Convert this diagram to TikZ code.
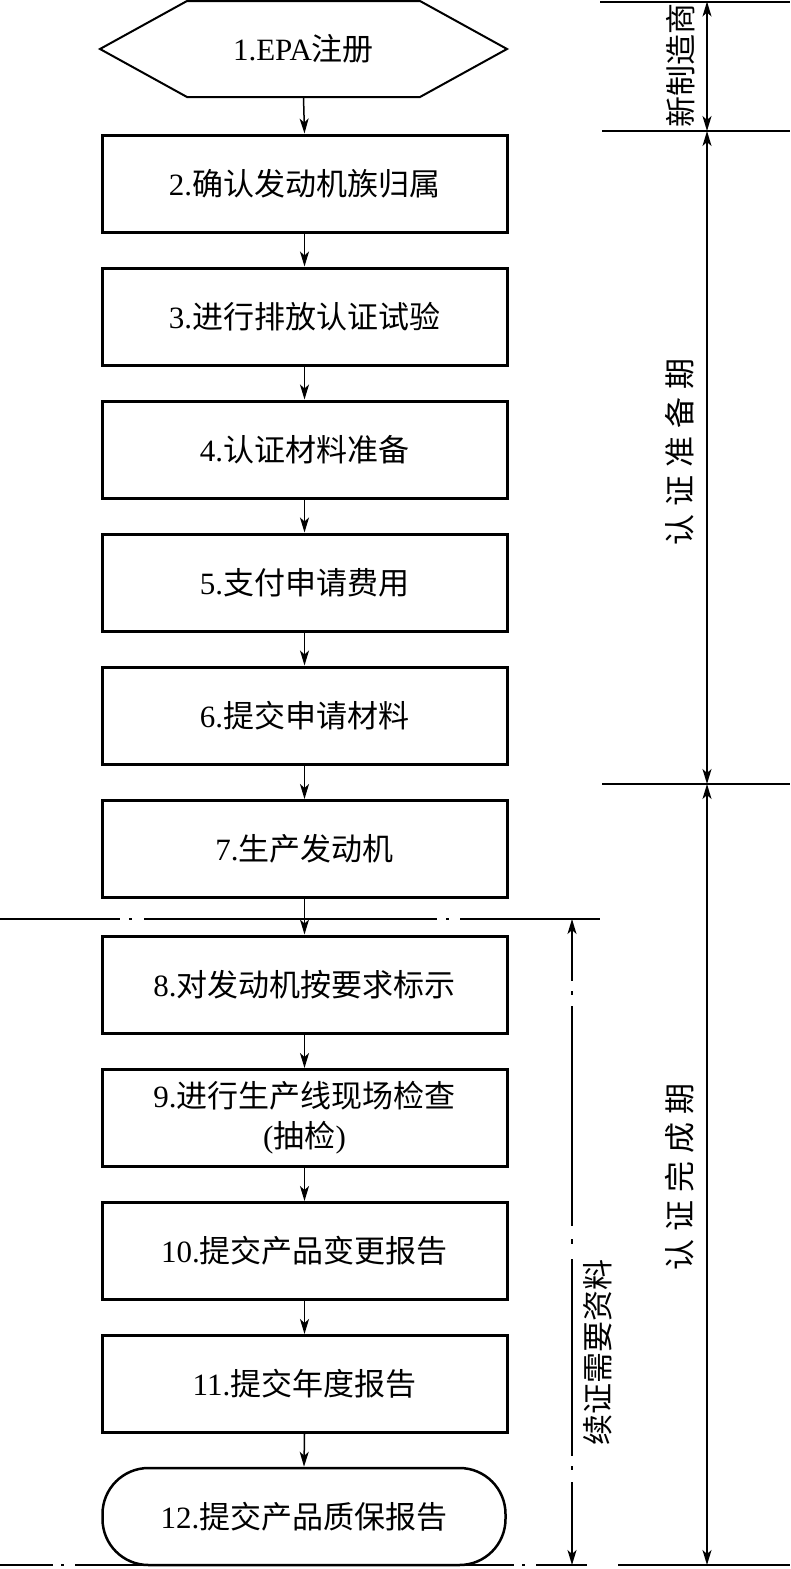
\documentclass[tikz,border=0pt]{standalone}
\usepackage{fontspec}
\setmainfont{Liberation Serif}
\newfontfamily\cjk{Noto Sans CJK SC}
\usetikzlibrary{arrows.meta,shapes.geometric}
\newcommand{\gapchar}{\hspace{8pt}}
\begin{document}
\begin{tikzpicture}[x=1pt,y=-1pt,
  lbl/.style={font=\fontsize{31}{40}\selectfont},
  stepbox/.style={draw, line width=3pt, minimum width=405pt, minimum height=97pt, inner sep=0pt, lbl},
  endbox/.style={draw, line width=2.5pt, rounded corners=46pt, minimum width=403pt, minimum height=97pt, inner sep=0pt, lbl},
  arr/.style={-{Stealth[length=15pt,width=9pt,inset=4pt]}, line width=1.5pt},
  dim/.style={{Stealth[length=15pt,width=9pt,inset=4pt]}-{Stealth[length=15pt,width=9pt,inset=4pt]}, line width=1.5pt},
  sep/.style={line width=2pt},
  vlbl/.style={lbl, rotate=90, inner sep=0pt}
]
\useasboundingbox (0,0) rectangle (790,1569);
% hexagon start
\draw[line width=2pt] (100,49) -- (187,1) -- (420,1) -- (507,49) -- (420,97) -- (187,97) -- cycle;
\node[lbl, minimum width=200pt, minimum height=96pt, inner sep=0pt] (n1) at (303.5,49) {1.EPA{\cjk 注册}};
\node[stepbox] (n2) at (304.5,183.5) {2.{\cjk 确认发动机族归属}};
\node[stepbox] (n3) at (304.5,316.5) {3.{\cjk 进行排放认证试验}};
\node[stepbox] (n4) at (304.5,449.5) {4.{\cjk 认证材料准备}};
\node[stepbox] (n5) at (304.5,582.5) {5.{\cjk 支付申请费用}};
\node[stepbox] (n6) at (304.5,715.5) {6.{\cjk 提交申请材料}};
\node[stepbox] (n7) at (304.5,849) {7.{\cjk 生产发动机}};
\node[stepbox] (n8) at (304.5,984.5) {8.{\cjk 对发动机按要求标示}};
\node[stepbox, align=center] (n9) at (304.5,1118) {9.{\cjk 进行生产线现场检查}\\({\cjk 抽检})};
\node[stepbox] (n10) at (304.5,1251) {10.{\cjk 提交产品变更报告}};
\node[stepbox] (n11) at (304.5,1384) {11.{\cjk 提交年度报告}};
\node[endbox] (n12) at (304,1516.5) {12.{\cjk 提交产品质保报告}};
\foreach \a/\b in {n1/n2,n2/n3,n3/n4,n4/n5,n5/n6,n6/n7,n7/n8,n8/n9,n9/n10,n10/n11,n11/n12}
  \draw[arr] (\a.south) -- (\b.north);
% separators right
\coordinate (s0a) at (600,1.5); \coordinate (s0b) at (790,1.5);
\coordinate (s1a) at (602,131); \coordinate (s1b) at (790,131);
\coordinate (s2a) at (602,784); \coordinate (s2b) at (790,784);
\coordinate (s3a) at (618,1565); \coordinate (s3b) at (790,1565);
\draw[sep] (s0a) -- (s0b);
\draw[sep] (s1a) -- (s1b);
\draw[sep] (s2a) -- (s2b);
\draw[sep] (s3a) -- (s3b);
% dash-dot separators
\coordinate (h1a) at (0,919); \coordinate (h1b) at (600,919);
\draw[sep, dash pattern=on 120pt off 9pt on 3pt off 12pt on 293pt off 9pt on 3pt off 11pt on 200pt] (h1a) -- (h1b);
\coordinate (h2a) at (0,1565); \coordinate (h2b) at (587,1565);
\draw[sep, dash pattern=on 53pt off 8pt on 3pt off 11pt on 439pt off 8pt on 3pt off 11pt on 100pt] (h2a) -- (h2b);
% dimension lines
\coordinate (d0) at (707,1.5); \coordinate (d1) at (707,131);
\coordinate (d2) at (707,784); \coordinate (d3) at (707,1565);
\draw[dim] (d0) -- (d1);
\draw[dim] (d1) -- (d2);
\draw[dim] (d2) -- (d3);
\coordinate (r0) at (572,919); \coordinate (r1) at (572,1565);
\draw[dim, dash pattern=on 52pt off 10pt on 4pt off 11pt on 220pt off 13pt on 5pt off 15pt on 197pt off 10pt on 4pt off 12pt on 200pt] (r0) -- (r1);
% labels
\node[vlbl] (l1) at (681,65) {\cjk 新制造商};
\node[vlbl] (l2) at (680,452) {\cjk 认\gapchar 证\gapchar 准\gapchar 备\gapchar 期};
\node[vlbl] (l3) at (680,1177) {\cjk 认\gapchar 证\gapchar 完\gapchar 成\gapchar 期};
\node[vlbl] (l4) at (598,1352) {\cjk 续证需要资料};
\end{tikzpicture}
\end{document}
